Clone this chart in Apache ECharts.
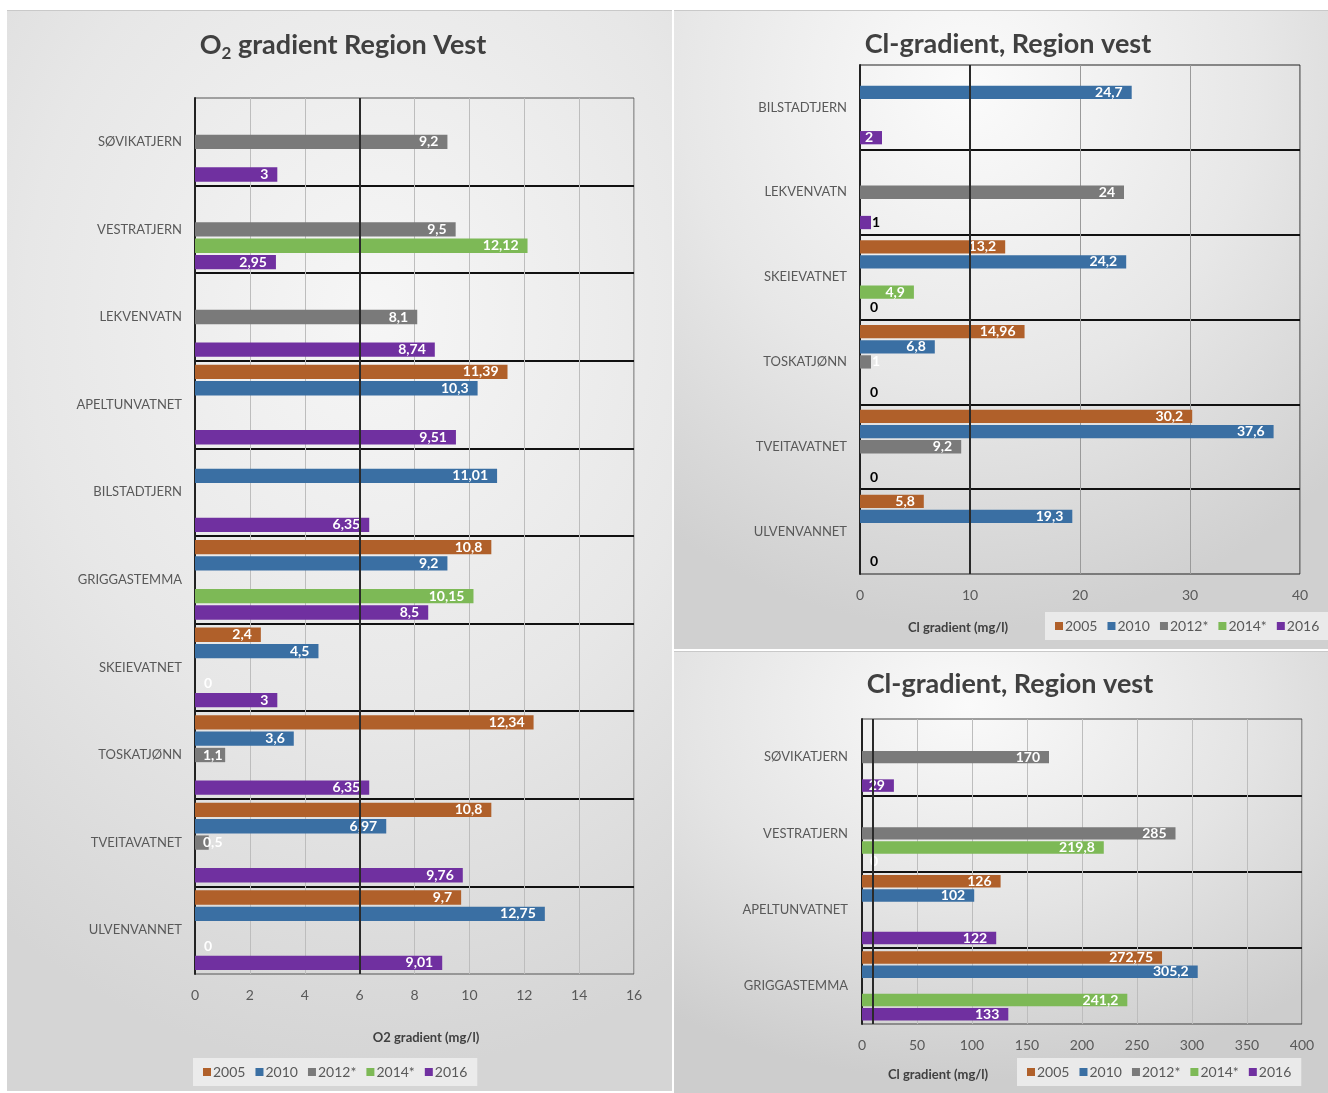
<!DOCTYPE html>
<html><head><meta charset="utf-8">
<script src="https://cdn.jsdelivr.net/npm/echarts@6/dist/echarts.min.js"></script>
<style>
html,body{margin:0;padding:0;background:#fff;}
#wrap{position:relative;width:1328px;height:1093px;overflow:hidden;background:#fff;}
.panel{position:absolute;border-top:1px solid #c9c9c9;}
#p1{left:7px;top:10px;width:665px;height:1080px;background:radial-gradient(ellipse 95% 70% at 55% 28%,#f6f6f6 0%,#e7e7e7 55%,#d5d5d5 100%);}
#p2{left:674px;top:10px;width:654px;height:638px;background:radial-gradient(ellipse 80% 85% at 45% 12%,#fbfbfb 0%,#e7e7e7 55%,#d0d0d0 100%);}
#p3{left:674px;top:651px;width:654px;height:442px;background:radial-gradient(ellipse 80% 85% at 45% 12%,#fafafa 0%,#e4e4e4 55%,#cdcdcd 100%);}
#chart{position:absolute;left:0;top:0;width:1328px;height:1093px;}
</style></head>
<body><div id="wrap"><div class="panel" id="p1"></div><div class="panel" id="p2"></div><div class="panel" id="p3"></div><div id="chart"></div></div>
<script>
// ---------- data ----------
const years = ['2005', '2010', '2012*', '2014*', '2016'];

const o2Categories = ['SØVIKATJERN','VESTRATJERN','LEKVENVATN','APELTUNVATNET','BILSTADTJERN','GRIGGASTEMMA','SKEIEVATNET','TOSKATJØNN','TVEITAVATNET','ULVENVANNET'];
const o2_2005 = [null, null, null, 11.39, null, 10.8, 2.4, 12.34, 10.8, 9.7];
const o2_2010 = [null, null, null, 10.3, 11.01, 9.2, 4.5, 3.6, 6.97, 12.75];
const o2_2012 = [9.2, 9.5, 8.1, null, null, null, null, 1.1, 0.5, null];
const o2_2014 = [null, 12.12, null, null, null, 10.15, 0, null, null, 0];
const o2_2016 = [3, 2.95, 8.74, 9.51, 6.35, 8.5, 3, 6.35, 9.76, 9.01];
const o2Axis = {min: 0, max: 16, interval: 2};
const o2Marker = 6;

const clACategories = ['BILSTADTJERN','LEKVENVATN','SKEIEVATNET','TOSKATJØNN','TVEITAVATNET','ULVENVANNET'];
const clA_2005 = [null, null, 13.2, 14.96, 30.2, 5.8];
const clA_2010 = [24.7, null, 24.2, 6.8, 37.6, 19.3];
const clA_2012 = [null, 24, null, 1, 9.2, null];
const clA_2014 = [null, null, 4.9, null, null, null];
const clA_2016 = [2, 1, 0, 0, 0, 0];
const clAAxis = {min: 0, max: 40, interval: 10};
const clAMarker = 10;

const clBCategories = ['SØVIKATJERN','VESTRATJERN','APELTUNVATNET','GRIGGASTEMMA'];
const clB_2005 = [null, null, 126, 272.75];
const clB_2010 = [null, null, 102, 305.2];
const clB_2012 = [170, 285, null, null];
const clB_2014 = [null, 219.8, null, 241.2];
const clB_2016 = [29, 0, 122, 133];
const clBAxis = {min: 0, max: 400, interval: 50};
const clBMarker = 10;

const titles = ['O2 gradient Region Vest', 'Cl-gradient, Region vest', 'Cl-gradient, Region vest'];
const axisNames = ['O2 gradient (mg/l)', 'Cl gradient (mg/l)', 'Cl gradient (mg/l)'];

// ---------- styles ----------
const FONT = 'Lato, "Open Sans", sans-serif';
const colors = ['#B0602A', '#3A6FA3', '#7A7A7A', '#7DB956', '#7030A0'];
const txt = '#595959';

function fmt(p) { return p.value == null ? '' : String(p.value).replace('.', ','); }

function rule0(v) {
  if (v === 0) return {position: 'right', distance: 9, color: '#fff'};
  if (v < 1.5) return {position: 'insideLeft', distance: 8};
  return {};
}
function ruleA(v, name) {
  if (v <= 1) return {position: 'right', distance: v === 0 ? 10 : 1, color: name === '2016' ? '#000' : '#fff'};
  return {};
}
function ruleB(v) {
  if (v === 0) return {position: 'right', distance: 8, color: '#fff'};
  return {};
}

function makeSeries(gi, name, arr, color, rule, marker, catGap) {
  const s = {
    type: 'bar', name: name, xAxisIndex: gi, yAxisIndex: gi,
    data: arr.map(v => v == null ? null : {value: v, label: rule(v, name)}),
    itemStyle: {color: color},
    barCategoryGap: catGap, barGap: '14%',
    label: {show: true, position: 'insideRight', distance: 9, color: '#fff', fontWeight: 'bold', fontSize: 14, fontFamily: FONT, formatter: fmt},
    emphasis: {disabled: true}
  };
  if (marker != null) {
    s.markLine = {silent: true, symbol: 'none', label: {show: false},
      lineStyle: {color: '#2a2a2a', width: 2, type: 'solid'}, data: [{xAxis: marker}]};
  }
  return s;
}

const grids = [
  {left: 195, top: 98, width: 439, height: 876},
  {left: 860, top: 65, width: 440, height: 509},
  {left: 862, top: 719, width: 440, height: 305}
];
const gridBorders = ['#555', '#222', '#444'];

function xAx(gi, ax) {
  return {gridIndex: gi, type: 'value', min: ax.min, max: ax.max, interval: ax.interval,
    axisLabel: {fontSize: 14, color: txt, margin: 14, fontFamily: FONT},
    axisLine: {show: false}, axisTick: {show: false},
    splitLine: {show: true, lineStyle: {color: gi === 1 ? '#9a9a9a' : '#bdbdbd', width: 1}}};
}
function yAx(gi, cats, margin) {
  return {gridIndex: gi, type: 'category', data: cats, inverse: true,
    axisLine: {show: true, lineStyle: {color: '#222', width: 2}}, axisTick: {show: false},
    axisLabel: {fontSize: 13, color: txt, margin: margin, fontFamily: FONT, interval: 0},
    splitLine: {show: true, interval: 0, showMinLine: false, showMaxLine: false, lineStyle: {color: '#111', width: 2}}};
}

const series = [];
const o2Sets = [o2_2005, o2_2010, o2_2012, o2_2014, o2_2016];
const clASets = [clA_2005, clA_2010, clA_2012, clA_2014, clA_2016];
const clBSets = [clB_2005, clB_2010, clB_2012, clB_2014, clB_2016];
years.forEach((y, i) => series.push(makeSeries(0, y, o2Sets[i], colors[i], rule0, i === 4 ? o2Marker : null, '9%')));
years.forEach((y, i) => series.push(makeSeries(1, y, clASets[i], colors[i], ruleA, i === 4 ? clAMarker : null, '13%')));
years.forEach((y, i) => series.push(makeSeries(2, y, clBSets[i], colors[i], ruleB, i === 4 ? clBMarker : null, '9%')));

const titleRich = {
  a: {fontSize: 27, fontWeight: 'bold', color: '#404040', fontFamily: FONT, lineHeight: 34},
  s: {fontSize: 17, fontWeight: 'bold', color: '#404040', fontFamily: FONT, lineHeight: 20, verticalAlign: 'bottom'}
};
const o2Title = '{a|' + titles[0].slice(0, 1) + '}{s|' + titles[0].slice(1, 2) + '}{a|' + titles[0].slice(2) + '}';

function legend(left, top) {
  return {data: years, left: left, top: top, width: 400, orient: 'horizontal', icon: 'rect',
    itemWidth: 8, itemHeight: 8, itemGap: 10, selectedMode: false,
    backgroundColor: 'rgba(238,238,238,0.85)', padding: [7, 10],
    textStyle: {fontSize: 14, color: txt, fontFamily: FONT, padding: [0, 0, 0, -3]}};
}

const option = {
  animation: false,
  backgroundColor: 'transparent',
  title: [
    {text: o2Title, left: 338, top: 23, textAlign: 'center', textStyle: {rich: titleRich}},
    {text: titles[1], left: 1003, top: 26, textAlign: 'center', textStyle: {fontSize: 27, fontWeight: 'bold', color: '#404040', fontFamily: FONT}},
    {text: titles[2], left: 1005, top: 666, textAlign: 'center', textStyle: {fontSize: 27, fontWeight: 'bold', color: '#404040', fontFamily: FONT}},
    {text: axisNames[0], left: 421, top: 1026, textAlign: 'center', textStyle: {fontSize: 13, fontWeight: 'bold', color: '#404040', fontFamily: FONT}},
    {text: axisNames[1], left: 953, top: 616, textAlign: 'center', textStyle: {fontSize: 13, fontWeight: 'bold', color: '#404040', fontFamily: FONT}},
    {text: axisNames[2], left: 933, top: 1063, textAlign: 'center', textStyle: {fontSize: 13, fontWeight: 'bold', color: '#404040', fontFamily: FONT}}
  ],
  legend: [legend(193, 1058), legend(1045, 612), legend(1017, 1058)],
  grid: grids.map((g, i) => Object.assign({show: true, borderColor: gridBorders[i], borderWidth: 1, backgroundColor: 'transparent', containLabel: false}, g)),
  xAxis: [xAx(0, o2Axis), xAx(1, clAAxis), xAx(2, clBAxis)],
  yAxis: [yAx(0, o2Categories, 13), yAx(1, clACategories, 13), yAx(2, clBCategories, 14)],
  series: series
};

const chart = echarts.init(document.getElementById('chart'), null, {renderer: 'canvas'});
chart.setOption(option);
</script></body></html>
